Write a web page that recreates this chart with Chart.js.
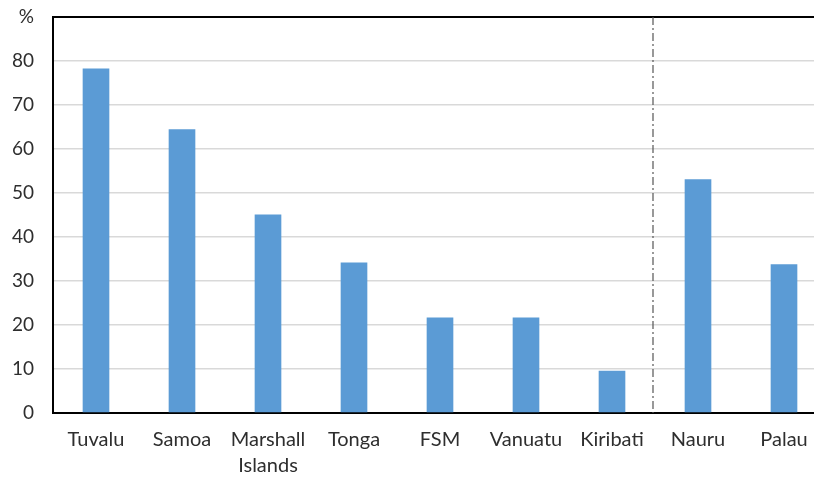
<!DOCTYPE html>
<html>
<head>
<meta charset="utf-8">
<script src="https://cdn.jsdelivr.net/npm/chart.js@4/dist/chart.umd.min.js"></script>
<style>
  html, body { margin: 0; padding: 0; background: #fff; overflow: hidden; }
  #wrap { width: 814px; height: 477px; overflow: hidden; position: relative; }
  #box { width: 840px; height: 477px; position: absolute; left: 0; top: 0; }
</style>
</head>
<body>
<div id="wrap"><div id="box"><canvas id="c"></canvas></div></div>
<script>
// Countries along the x axis
const countries = ['Tuvalu', 'Samoa', ['Marshall', 'Islands'], 'Tonga', 'FSM', 'Vanuatu', 'Kiribati', 'Nauru', 'Palau'];
// Share, per cent
const shares = [78.3, 64.5, 45.1, 34.2, 21.7, 21.7, 9.6, 53.1, 33.8];
// Y axis ticks; the top one carries the unit
const yTicks = [0, 10, 20, 30, 40, 50, 60, 70, 80, 90];
const yUnit = '%';
// The vertical separator sits between these two category indexes
const splitAfter = 6;

const textColor = '#2e2e2e';
const fontFamily = 'Lato, "Open Sans", sans-serif';

// Dash-dot separator line between the two country groups
const separator = {
  id: 'separator',
  afterDatasetsDraw(chart) {
    const x = chart.scales.x;
    const area = chart.chartArea;
    const px = (x.getPixelForTick(splitAfter) + x.getPixelForTick(splitAfter + 1)) / 2 - 2;
    const ctx = chart.ctx;
    ctx.save();
    ctx.strokeStyle = '#555';
    ctx.lineWidth = 1.2;
    ctx.setLineDash([8, 3, 2, 3]);
    ctx.beginPath();
    ctx.moveTo(px, area.top);
    ctx.lineTo(px, area.bottom);
    ctx.stroke();
    ctx.restore();
  }
};

new Chart(document.getElementById('c'), {
  type: 'bar',
  data: {
    labels: countries,
    datasets: [{
      data: shares,
      backgroundColor: '#5B9BD5',
      borderWidth: 0,
      categoryPercentage: 1,
      barPercentage: 0.31
    }]
  },
  plugins: [separator],
  options: {
    responsive: true,
    maintainAspectRatio: false,
    animation: false,
    layout: { padding: { top: 17, right: 13, left: 0, bottom: 0 } },
    plugins: { legend: { display: false }, tooltip: { enabled: false } },
    scales: {
      x: {
        grid: { display: false, drawTicks: false },
        border: { color: '#000', width: 2 },
        ticks: {
          color: textColor,
          font: { family: fontFamily, size: 20, lineHeight: 1.3 },
          padding: 14,
          maxRotation: 0,
          autoSkip: false
        },
        afterFit(scale) {
          scale.height = 64;
          scale.paddingLeft = 0;
          scale.paddingRight = 0;
        }
      },
      y: {
        min: 0,
        max: 90,
        afterBuildTicks(scale) { scale.ticks = yTicks.map(v => ({ value: v })); },
        grid: {
          drawTicks: false,
          color: ctx => ctx.tick && ctx.tick.value === 90 ? '#000' : '#d9d9d9',
          lineWidth: ctx => ctx.tick && ctx.tick.value === 90 ? 2 : 1.5
        },
        border: { color: '#000', width: 2 },
        ticks: {
          color: textColor,
          font: { family: fontFamily, size: 19 },
          padding: 19,
          callback: v => v === 90 ? yUnit : v
        },
        afterFit(scale) {
          scale.width = 53;
          scale.paddingTop = 0;
          scale.paddingBottom = 0;
        }
      }
    }
  }
});
</script>
</body>
</html>
